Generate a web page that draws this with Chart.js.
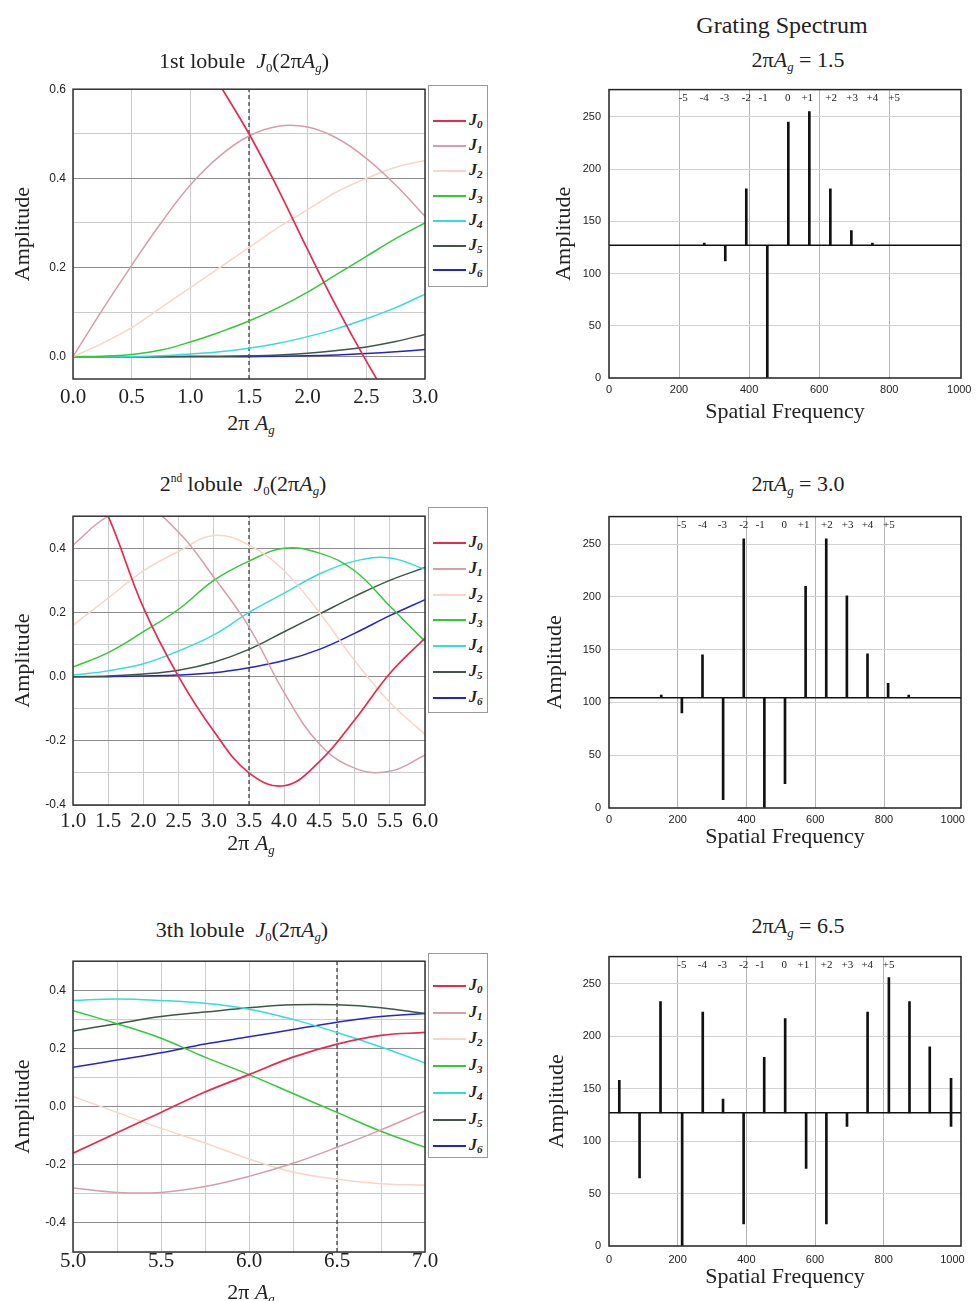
<!DOCTYPE html>
<html>
<head>
<meta charset="utf-8">
<title>Bessel lobules and grating spectra</title>
<script src="https://cdn.jsdelivr.net/npm/chart.js@4.4.1/dist/chart.umd.min.js"></script>
<style>
  html, body { margin: 0; padding: 0; background: #fff; }
  body { position: relative; width: 980px; height: 1301px; overflow: hidden;
         font-family: "Liberation Serif", "DejaVu Serif", serif; color: #222; }
  canvas { position: absolute; }
  .lbl { position: absolute; transform: translate(-50%, -50%); white-space: nowrap; font-size: 22px; line-height: 1; }
  .lbl sub { font-size: 58%; vertical-align: -0.35em; line-height: 0; }
  .lbl sup { font-size: 52%; vertical-align: 0.75em; line-height: 0; }
  .legend { position: absolute; left: 428px; width: 60px; border: 1px solid #9a9a9a; background: #fff; box-sizing: border-box; }
  .legend .row { position: absolute; left: 0; right: 0; height: 0; }
  .legend .swatch { position: absolute; left: 4px; width: 33px; height: 2px; top: -1px; }
  .legend .name { position: absolute; left: 40px; top: -9px; font-style: italic; font-weight: bold; font-size: 16px; line-height: 1; }
  .legend .name sub { font-size: 11px; vertical-align: -0.3em; line-height: 0; }
</style>
</head>
<body>
<script>
/** DATA **/
const besselOrders = ['0', '1', '2', '3', '4', '5', '6'];
const besselColors = ['#e62a4e', '#d49eaa', '#f7d6c8', '#34c838', '#36dcdc', '#3e5646', '#2424c8'];

// 1st lobule, 2πAg = 0 .. 3
const lob1X  = [0, 0.25, 0.5, 0.75, 1.0, 1.25, 1.5, 1.75, 2.0, 2.25, 2.5, 2.75, 3.0];
const lob1J0 = [null, null, null, null, 0.72, 0.61, 0.50, 0.375, 0.24, 0.11, -0.01, -0.12, -0.22];
const lob1J1 = [0, 0.105, 0.205, 0.30, 0.385, 0.45, 0.495, 0.517, 0.515, 0.49, 0.445, 0.385, 0.315];
const lob1J2 = [0, 0.03, 0.065, 0.11, 0.155, 0.20, 0.245, 0.29, 0.33, 0.37, 0.40, 0.425, 0.44];
const lob1J3 = [0, 0.001, 0.005, 0.015, 0.033, 0.055, 0.08, 0.11, 0.145, 0.185, 0.225, 0.265, 0.30];
const lob1J4 = [0, 0, 0, 0.002, 0.006, 0.011, 0.019, 0.03, 0.045, 0.063, 0.085, 0.11, 0.14];
const lob1J5 = [0, 0, 0, 0, 0.001, 0.001, 0.002, 0.004, 0.008, 0.014, 0.022, 0.034, 0.05];
const lob1J6 = [0, 0, 0, 0, 0, 0, 0, 0.001, 0.002, 0.004, 0.007, 0.011, 0.016];

// 2nd lobule, 2πAg = 1 .. 6
const lob2X  = [1.0, 1.5, 2.0, 2.5, 3.0, 3.5, 4.0, 4.5, 5.0, 5.5, 6.0];
const lob2J0 = [0.72, 0.50, 0.215, 0.0, -0.17, -0.30, -0.34, -0.265, -0.135, 0.01, 0.12];
const lob2J1 = [0.41, 0.50, 0.53, 0.45, 0.31, 0.155, -0.05, -0.21, -0.285, -0.295, -0.245];
const lob2J2 = [0.16, 0.245, 0.33, 0.39, 0.44, 0.41, 0.33, 0.20, 0.05, -0.08, -0.18];
const lob2J3 = [0.03, 0.075, 0.14, 0.21, 0.30, 0.36, 0.40, 0.385, 0.33, 0.22, 0.11];
const lob2J4 = [0.005, 0.018, 0.04, 0.08, 0.13, 0.20, 0.26, 0.32, 0.36, 0.37, 0.335];
const lob2J5 = [0, 0.002, 0.008, 0.02, 0.045, 0.085, 0.14, 0.195, 0.25, 0.30, 0.34];
const lob2J6 = [0, 0, 0.002, 0.005, 0.012, 0.028, 0.05, 0.085, 0.135, 0.19, 0.24];

// 3th lobule, 2πAg = 5 .. 7
const lob3X  = [5.0, 5.25, 5.5, 5.75, 6.0, 6.25, 6.5, 6.75, 7.0];
const lob3J0 = [-0.16, -0.09, -0.02, 0.05, 0.11, 0.17, 0.215, 0.245, 0.255];
const lob3J1 = [-0.28, -0.295, -0.295, -0.275, -0.24, -0.195, -0.14, -0.08, -0.015];
const lob3J2 = [0.035, -0.02, -0.075, -0.125, -0.18, -0.225, -0.25, -0.265, -0.27];
const lob3J3 = [0.33, 0.285, 0.235, 0.17, 0.11, 0.045, -0.02, -0.085, -0.14];
const lob3J4 = [0.365, 0.37, 0.365, 0.355, 0.335, 0.30, 0.255, 0.205, 0.15];
const lob3J5 = [0.26, 0.285, 0.31, 0.325, 0.34, 0.35, 0.35, 0.34, 0.32];
const lob3J6 = [0.135, 0.16, 0.185, 0.215, 0.24, 0.265, 0.29, 0.31, 0.32];

// grating spectra (spike positions, spike tips, zero level of the spectrum)
const spec1Freq = [272, 332, 392, 452, 512, 572, 632, 692, 752];
const spec1Amp  = [129, 112, 181, 0, 245, 255, 181, 141, 129];
const spec1Base = 127;

const spec2Freq = [152, 212, 272, 332, 392, 452, 512, 572, 632, 692, 752, 812, 872];
const spec2Amp  = [107, 90, 145, 8, 255, 0, 23, 210, 255, 201, 146, 118, 107];
const spec2Base = 104.5;

const spec3Freq = [30, 89, 150, 213, 273, 332, 392, 452, 513, 574, 633, 693, 753, 815, 875, 934, 996, 996];
const spec3Amp  = [158, 65, 233, 0, 223, 140, 21, 180, 217, 74, 21, 114, 223, 256, 233, 190, 160, 114];
const spec3Base = 127;

const specFreqTicks = [0, 200, 400, 600, 800, 1000];
const specAmpTicks  = [0, 50, 100, 150, 200, 250];

const orderText = ['-5', '-4', '-3', '-2', '-1', '0', '+1', '+2', '+3', '+4', '+5'];
const orderPos  = [212, 272, 330, 392, 440, 510, 566, 634, 694, 752, 814];

/** PLUGINS **/
const framePlugin = {
  id: 'frame',
  afterDraw(chart, args, opts) {
    const { ctx, chartArea: a } = chart;
    ctx.save();
    ctx.strokeStyle = opts.color || '#222';
    ctx.lineWidth = 1.5;
    ctx.strokeRect(a.left, a.top, a.right - a.left, a.bottom - a.top);
    ctx.restore();
  }
};

const orderPlugin = {
  id: 'orders',
  afterDatasetsDraw(chart, args, opts) {
    if (!opts.pos) return;
    const { ctx, chartArea: a, scales: { x } } = chart;
    ctx.save();
    ctx.font = '11px "Liberation Serif"';
    ctx.fillStyle = '#222';
    ctx.textAlign = 'center';
    ctx.textBaseline = 'middle';
    opts.pos.forEach((v, i) => ctx.fillText(opts.text[i], x.getPixelForValue(v), a.top + 9));
    ctx.restore();
  }
};
Chart.register(framePlugin, orderPlugin);
Chart.defaults.font.family = '"Liberation Sans", Arial, sans-serif';
Chart.defaults.color = '#222';

const serif = (size) => ({ family: '"Liberation Serif", serif', size });

function placeCanvas(id, left, top, w, h) {
  const c = document.createElement('canvas');
  c.id = id; c.width = w; c.height = h;
  c.style.left = left + 'px'; c.style.top = top + 'px';
  c.style.width = w + 'px'; c.style.height = h + 'px';
  document.body.appendChild(c);
  return c;
}

function addLabel(x, y, html, size) {
  const d = document.createElement('div');
  d.className = 'lbl';
  d.style.left = x + 'px'; d.style.top = y + 'px';
  if (size) d.style.fontSize = size + 'px';
  d.innerHTML = html;
  document.body.appendChild(d);
}

function addLegend(top, height, first, step) {
  const box = document.createElement('div');
  box.className = 'legend';
  box.style.top = top + 'px';
  box.style.height = height + 'px';
  besselOrders.forEach((n, k) => {
    const row = document.createElement('div');
    row.className = 'row';
    row.style.top = (first + step * k) + 'px';
    row.innerHTML = `<span class="swatch" style="background:${besselColors[k]}"></span><span class="name">J<sub>${n}</sub></span>`;
    box.appendChild(row);
  });
  document.body.appendChild(box);
}

/** LOBULE CHARTS (left column) **/
function lobuleChart(id, top, height, xs, series, xr, yr, xStep, mark, tickPad) {
  const canvas = placeCanvas(id, 0, top, 450, height);
  const datasets = series.map((vals, k) => ({
    label: 'J' + besselOrders[k],
    data: xs.map((x, i) => ({ x, y: vals[i] })),
    borderColor: besselColors[k],
    borderWidth: k === 0 ? 1.7 : 1.5,
    pointRadius: 0,
    tension: 0.4,
    fill: false
  }));
  datasets.push({
    label: 'mark',
    data: [{ x: mark, y: yr[0] }, { x: mark, y: yr[1] }],
    borderColor: '#333', borderWidth: 1.2, borderDash: [4, 3], pointRadius: 0
  });
  return new Chart(canvas, {
    type: 'line',
    data: { datasets },
    options: {
      responsive: false, animation: false, events: [],
      layout: { padding: { top: 8, right: 25, left: 0, bottom: 0 } },
      plugins: { legend: { display: false }, tooltip: { enabled: false }, frame: { color: '#333' } },
      scales: {
        x: {
          type: 'linear', min: xr[0], max: xr[1],
          afterFit: s => { s.height = 30; },
          grid: { color: '#cccccc', drawTicks: false },
          border: { display: false },
          ticks: {
            stepSize: xStep, autoSkip: false, maxRotation: 0, includeBounds: false, padding: tickPad,
            font: serif(21),
            callback: v => (Math.round(v * 4) % 2 === 0 ? v.toFixed(1) : '')
          }
        },
        y: {
          min: yr[0], max: yr[1],
          afterFit: s => { s.width = 73; },
          grid: {
            drawTicks: false,
            color: c => (Math.round(c.tick.value * 10) % 2 === 0 ? '#8c8c8c' : '#cccccc')
          },
          border: { display: false },
          ticks: {
            stepSize: 0.1, includeBounds: false, padding: 7, font: { size: 12 },
            callback: v => (Math.round(v * 10) % 2 === 0 ? (Math.abs(v) < 1e-9 ? 0 : v).toFixed(1) : '')
          },
          title: { display: true, text: 'Amplitude', font: serif(22), padding: { top: 10, bottom: 0 } }
        }
      }
    }
  });
}

/** SPECTRUM CHARTS (right column) **/
function spectrumChart(id, top, height, freq, amp, base, xMax, yTitlePad, xTitlePad, tickPad) {
  const canvas = placeCanvas(id, 540, top, 440, height);
  return new Chart(canvas, {
    type: 'bar',
    data: {
      datasets: [
        {
          type: 'bar',
          data: freq.map((f, i) => ({ x: f, y: [base, amp[i]] })),
          backgroundColor: '#111', borderWidth: 0, barThickness: 2
        },
        {
          type: 'line',
          data: [{ x: 0, y: base }, { x: xMax, y: base }],
          borderColor: '#111', borderWidth: 1.5, pointRadius: 0
        }
      ]
    },
    options: {
      responsive: false, animation: false, events: [],
      layout: { padding: { top: 8, right: 19, left: 0, bottom: 0 } },
      plugins: {
        legend: { display: false }, tooltip: { enabled: false },
        frame: { color: '#222' },
        orders: { pos: orderPos, text: orderText }
      },
      scales: {
        x: {
          type: 'linear', min: 0, max: xMax, offset: false,
          afterFit: s => { s.height = 48; },
          afterBuildTicks: s => { s.ticks = specFreqTicks.map(v => ({ value: v })); },
          grid: {
            offset: false, drawTicks: false,
            color: c => (c.tick.value > 0 && c.tick.value < 1000 ? '#b4b4b4' : 'rgba(0,0,0,0)')
          },
          border: { display: false },
          ticks: { autoSkip: false, maxRotation: 0, padding: tickPad, font: { size: 11 }, callback: v => String(v) },
          title: { display: true, text: 'Spatial Frequency', font: serif(22), padding: { top: 0, bottom: xTitlePad } }
        },
        y: {
          min: 0, max: 276,
          afterFit: s => { s.width = 69; },
          afterBuildTicks: s => { s.ticks = specAmpTicks.map(v => ({ value: v })); },
          grid: { drawTicks: false, color: c => (c.tick.value > 0 ? '#d2d2d2' : 'rgba(0,0,0,0)') },
          border: { display: false },
          ticks: { padding: 8, font: { size: 11 }, callback: v => String(v) },
          title: { display: true, text: 'Amplitude', font: serif(22), padding: { top: yTitlePad, bottom: 0 } }
        }
      }
    }
  });
}

lobuleChart('lob1', 75, 334, lob1X, [lob1J0, lob1J1, lob1J2, lob1J3, lob1J4, lob1J5, lob1J6],
            [0, 3], [-0.05, 0.6], 0.5, 1.5, 6);
lobuleChart('lob2', 502, 333, lob2X, [lob2J0, lob2J1, lob2J2, lob2J3, lob2J4, lob2J5, lob2J6],
            [1, 6], [-0.4, 0.5], 0.5, 3.5, 4);
lobuleChart('lob3', 947, 335, lob3X, [lob3J0, lob3J1, lob3J2, lob3J3, lob3J4, lob3J5, lob3J6],
            [5, 7], [-0.5, 0.5], 0.25, 6.5, -3);

spectrumChart('spec1', 75, 351, spec1Freq, spec1Amp, spec1Base, 1005, 11, 1, 5);
spectrumChart('spec2', 502, 354, spec2Freq, spec2Amp, spec2Base, 1024, 2, 6, 5);
spectrumChart('spec3', 942, 352, spec3Freq, spec3Amp, spec3Base, 1025, 4, 4, 7);

/** TITLES & LEGENDS **/
const lobTail = '&nbsp; <i>J</i><sub>0</sub>(2π<i>A</i><sub><i>g</i></sub>)';
addLabel(244, 61, '1st lobule' + lobTail);
addLabel(243, 484, '2<sup>nd</sup> lobule' + lobTail);
addLabel(242, 930, '3th lobule' + lobTail);
addLabel(782, 25, 'Grating Spectrum', 24);
addLabel(798, 60, '2π<i>A</i><sub><i>g</i></sub> = 1.5');
addLabel(798, 484, '2π<i>A</i><sub><i>g</i></sub> = 3.0');
addLabel(798, 926, '2π<i>A</i><sub><i>g</i></sub> = 6.5');
['423', '843', '1292'].forEach(y => addLabel(251, +y, '2π <i>A<sub>g</sub></i>'));

addLegend(85, 202, 35, 24.9);
addLegend(507, 206, 35, 25.8);
addLegend(953, 205, 32, 26.7);
</script>
</body>
</html>
